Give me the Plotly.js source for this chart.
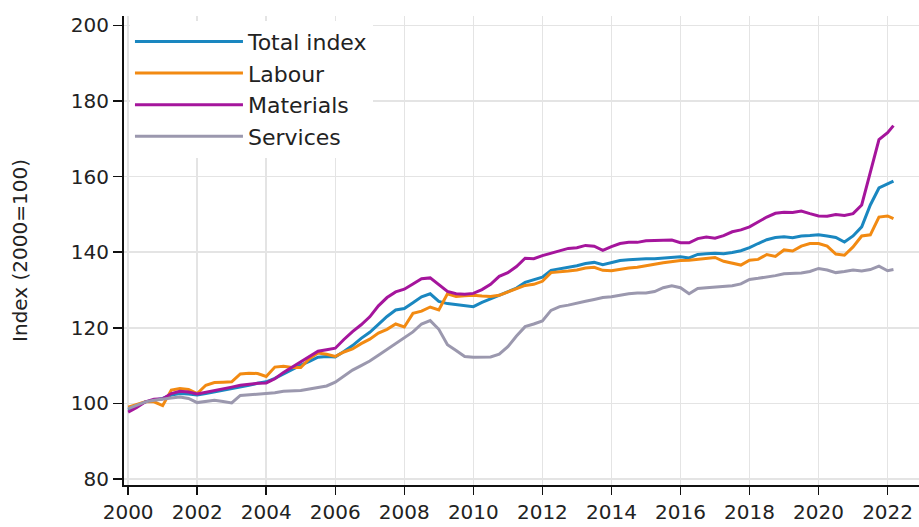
<!DOCTYPE html>
<html>
<head>
<meta charset="utf-8">
<script src="https://cdn.plot.ly/plotly-3.0.1.min.js"></script>
<style>
html,body{margin:0;padding:0;background:#fff;}
#chart{width:919px;height:527px;}
</style>
</head>
<body>
<div id="chart"></div>
<script>
// Quarterly readings (Jan, Apr, Jul, Oct) from 2000 to 2022, plus the last month (Mar 2022)
const startYear = 2000;
const lastPointYear = 2022.17;

const totalIndex = [
  98.3, 99.5, 100.4, 100.9,
  101.3, 102.2, 102.6, 102.5,
  102.2, 102.6, 103.0, 103.5,
  103.9, 104.4, 104.8, 105.3,
  105.7, 106.6, 107.8, 109.0,
  110.1, 111.1, 112.2, 112.4,
  112.3, 113.7, 115.3, 117.2,
  118.8, 120.9, 123.0, 124.7,
  125.1, 126.6, 128.2, 129.0,
  127.0, 126.4, 126.1, 125.7,
  125.6, 126.7, 127.6, 128.5,
  129.4, 130.5, 132.0, 132.7,
  133.4, 135.2, 135.6, 135.8,
  136.4, 137.0, 137.3, 136.7,
  137.2, 137.8, 138.0, 138.2,
  138.3, 138.3, 138.4, 138.6,
  138.8, 138.5, 139.4, 139.6,
  139.7, 139.6, 139.9, 140.4,
  141.2, 142.3, 143.3, 143.9,
  144.1, 143.8, 144.3, 144.4,
  144.6, 144.3, 143.9, 142.7,
  144.3, 146.7, 152.5, 157.0,
  158.2, 158.8
];

const labour = [
  99.0, 99.8, 100.4, 100.4,
  99.4, 103.5, 103.9, 103.7,
  102.6, 104.8, 105.5, 105.6,
  105.7, 107.8, 108.0, 107.9,
  107.1, 109.6, 109.8, 109.5,
  109.5, 111.8, 113.3, 113.0,
  112.4, 113.6, 114.4, 115.8,
  117.0, 118.6, 119.6, 121.0,
  120.2, 123.8, 124.4, 125.5,
  124.7, 129.0, 128.3, 128.5,
  128.6, 128.4, 128.3, 128.6,
  129.4, 130.2, 131.2, 131.5,
  132.3, 134.6, 134.7, 135.0,
  135.3, 135.8, 136.0, 135.2,
  135.1, 135.5, 135.8, 136.0,
  136.3, 136.8, 137.2, 137.6,
  137.8, 137.9, 138.1, 138.3,
  138.6, 137.6, 137.2, 136.6,
  137.9, 138.1, 139.4, 138.9,
  140.6, 140.3, 141.6, 142.3,
  142.3, 141.6, 139.5, 139.2,
  141.4, 144.3, 144.6, 149.3,
  149.6, 148.9
];

const materials = [
  97.7, 98.9, 100.4, 101.1,
  101.2, 102.6, 103.2, 103.0,
  102.5, 102.9, 103.3, 103.8,
  104.3, 104.8, 105.1, 105.3,
  105.4, 106.5, 108.2, 109.6,
  111.1, 112.6, 113.8, 114.2,
  114.6, 116.9, 119.0, 120.8,
  122.9, 125.8, 128.0, 129.5,
  130.2, 131.6, 133.0, 133.2,
  131.3, 129.6, 129.0, 128.9,
  129.1, 130.1, 131.5, 133.6,
  134.6, 136.2, 138.4, 138.3,
  139.1, 139.8, 140.4, 141.0,
  141.2, 141.8, 141.6, 140.5,
  141.5, 142.3, 142.6, 142.6,
  143.0, 143.1, 143.0, 143.2,
  142.5, 142.5, 143.6, 144.0,
  143.7, 144.4, 145.4, 145.9,
  146.7, 148.0, 149.3, 150.3,
  150.6, 150.5, 150.9, 150.2,
  149.6, 149.5, 150.0, 149.7,
  150.2, 152.5, 161.5, 169.8,
  171.6, 173.5
];

const services = [
  98.6, 99.6, 100.4, 100.8,
  101.0, 101.4, 101.7, 101.3,
  100.2, 100.6, 100.8, 100.5,
  100.1, 102.1, 102.3, 102.4,
  102.5, 102.8, 103.2, 103.3,
  103.4, 103.8, 104.2, 104.6,
  105.6, 107.3, 108.8, 110.0,
  111.2, 112.7, 114.2, 115.8,
  117.2, 118.9, 121.0, 121.9,
  119.6, 115.5, 114.0, 112.4,
  112.2, 112.2, 112.3, 113.0,
  115.0, 117.8, 120.3, 121.0,
  121.8, 124.6, 125.6, 126.0,
  126.4, 127.0, 127.5, 128.0,
  128.2, 128.6, 129.0, 129.2,
  129.2, 129.6, 130.6, 131.1,
  130.6, 129.0, 130.4, 130.6,
  130.7, 130.8, 131.1, 131.6,
  132.8, 133.1, 133.4, 133.8,
  134.3, 134.4, 134.5, 134.9,
  135.7, 135.3, 134.6, 134.9,
  135.3, 135.0, 135.4, 136.3,
  135.1, 135.4
];

const seriesNames = ["Total index", "Labour", "Materials", "Services"];
const seriesColors = ["#1a87c0", "#f28a12", "#a5159c", "#9b98ae"];
const yTickVals = [80, 100, 120, 140, 160, 180, 200];
const xTickVals = [2000, 2002, 2004, 2006, 2008, 2010, 2012, 2014, 2016, 2018, 2020, 2022];

// time positions (decimal years)
const n = totalIndex.length;
const t = [];
for (let i = 0; i < n - 1; i++) t.push(startYear + i / 4);
t.push(lastPointYear);

const seriesValues = [totalIndex, labour, materials, services];
const traces = seriesValues.map((vals, k) => ({
  x: t,
  y: vals,
  type: "scatter",
  mode: "lines",
  name: seriesNames[k],
  line: { color: seriesColors[k], width: 3 },
  hoverinfo: "x+y+name"
}));

const FONT = "DejaVu Sans, Verdana, sans-serif";

const layout = {
  width: 919,
  height: 527,
  margin: { l: 124, r: 0, t: 16, b: 42 },
  paper_bgcolor: "#ffffff",
  plot_bgcolor: "#ffffff",
  font: { family: FONT, size: 20, color: "#222222" },
  showlegend: true,
  legend: {
    x: 0.0075,
    y: 0.99,
    xanchor: "left",
    yanchor: "top",
    bgcolor: "#ffffff",
    borderwidth: 0,
    font: { family: FONT, size: 22, color: "#222222" },
    itemwidth: 108,
    traceorder: "normal"
  },
  xaxis: {
    range: [1999.88, 2022.91],
    tickvals: xTickVals,
    ticktext: xTickVals.map(String),
    showgrid: true,
    gridcolor: "#e4e4e4",
    gridwidth: 1.5,
    zeroline: false,
    showline: true,
    linecolor: "#111111",
    linewidth: 2,
    ticks: "outside",
    ticklen: 8,
    tickwidth: 1.5,
    tickcolor: "#111111",
    tickfont: { family: FONT, size: 20, color: "#222222" }
  },
  yaxis: {
    range: [78.4, 202.5],
    tickvals: yTickVals,
    ticktext: yTickVals.map(String),
    showgrid: true,
    gridcolor: "#e4e4e4",
    gridwidth: 1.5,
    zeroline: false,
    showline: true,
    linecolor: "#111111",
    linewidth: 2,
    ticks: "outside",
    ticklen: 9,
    tickwidth: 1.5,
    tickcolor: "#111111",
    tickfont: { family: FONT, size: 20, color: "#222222" },
    title: { text: "Index (2000=100)", font: { family: FONT, size: 20, color: "#222222" }, standoff: 38 }
  }
};

Plotly.newPlot("chart", traces, layout, { displayModeBar: false, staticPlot: true });
</script>
</body>
</html>
